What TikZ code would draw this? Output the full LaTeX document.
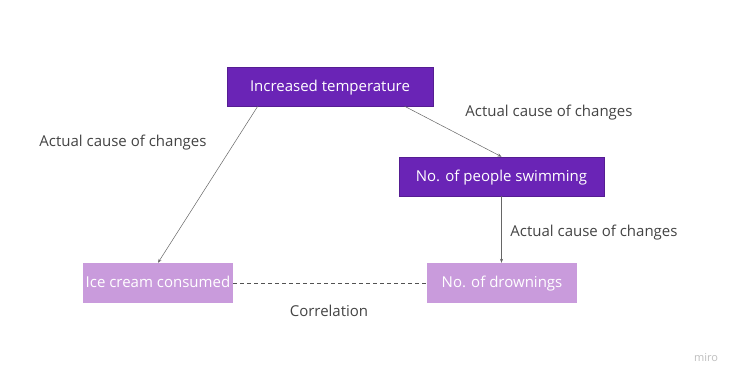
\documentclass[tikz,border=0pt]{standalone}
\usepackage{fontspec}
\setmainfont{Open Sans}
\usetikzlibrary{calc,arrows.meta}
\definecolor{darkp}{HTML}{6A24B6}
\definecolor{lightp}{HTML}{C99BDC}
\definecolor{lbl}{HTML}{444444}
\definecolor{conn}{HTML}{666666}
\tikzset{
  txt/.style={inner sep=0pt,text height=0.95em,text depth=0.02em,font=\fontsize{15}{17}\selectfont},
  darkbox/.style={txt,fill=darkp,draw=darkp!80!black,line width=0.6pt,text=white,minimum width=206pt,minimum height=39pt},
  lightbox/.style={txt,fill=lightp,draw=none,text=white,minimum width=150pt,minimum height=40pt},
  lbltext/.style={txt,text=lbl},
  conn/.style={draw=conn,line width=0.5pt,-{Stealth[length=4pt,width=3pt]}}
}
\begin{document}
\begin{tikzpicture}[x=1pt,y=-1pt]
\useasboundingbox[fill=white] (0,0) rectangle (730,380);
\node[darkbox] (temp) at (330,86.5) {Increased temperature};
\node[darkbox,minimum width=205pt] (swim) at (501.5,176.5) {No. of people swimming};
\node[lightbox] (ice) at (158,283) {Ice cream consumed};
\node[lightbox] (drown) at (502,283) {No. of drownings};
\coordinate (t1) at ($(temp.south west)+(31,0)$);
\coordinate (t2) at ($(temp.south west)+(178,0)$);
\draw[conn] (t1) -- (ice.north);
\draw[conn] (t2) -- (swim.north);
\draw[conn] (swim.south) -- (swim.south |- drown.north);
\draw[draw=conn!80!black,line width=0.7pt,dashed,dash pattern=on 4pt off 3pt] (ice.east) -- (drown.west);
\node[lbltext] (l1) at (123,141.5) {Actual cause of changes};
\node[lbltext] (l2) at (549,111.5) {Actual cause of changes};
\node[lbltext] (l3) at (594,231.5) {Actual cause of changes};
\node[lbltext] (l4) at (329,311.5) {Correlation};
\node[text=black!25,inner sep=0pt,font=\fontsize{11}{13}\selectfont] (miro) at (706,358) {miro};
\end{tikzpicture}
\end{document}
